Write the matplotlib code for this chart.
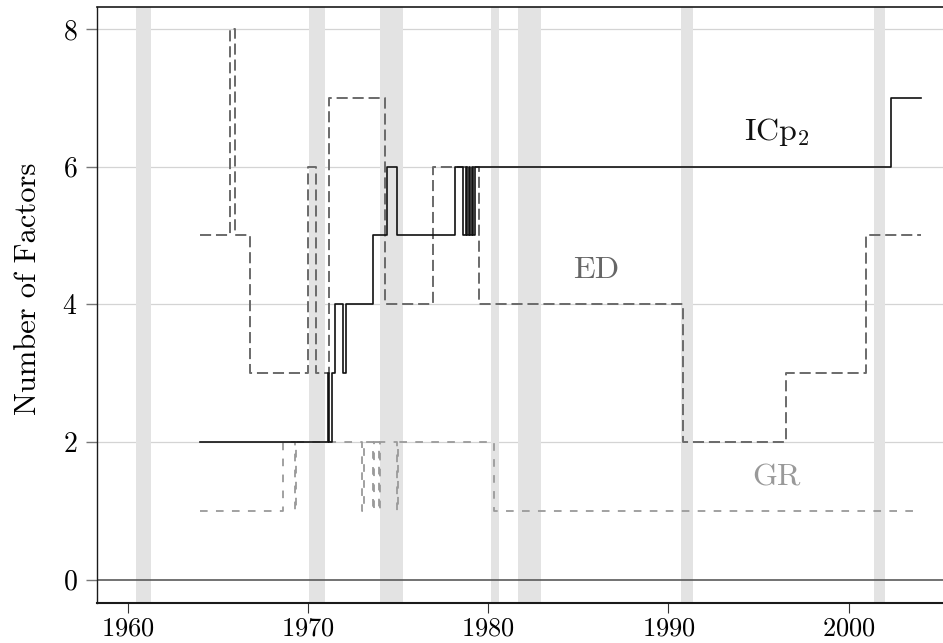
import numpy as np
import matplotlib.pyplot as plt

plt.rcParams['font.family'] = 'serif'
plt.rcParams['font.serif'] = ['cmr10']
plt.rcParams['mathtext.fontset'] = 'cm'
plt.rcParams['axes.formatter.use_mathtext'] = True
plt.rcParams['lines.scale_dashes'] = False

# recession periods (start, end), in years
recessoes = [(1960.42, 1961.25), (1970.05, 1970.94), (1974.0, 1975.27),
             (1980.16, 1980.62), (1981.66, 1982.95), (1990.68, 1991.35),
             (2001.41, 2002.01)]

# estimated number of factors, step series: date of change -> new value
icp2_t = [1964.0, 1971.083, 1971.167, 1971.333, 1971.5, 1971.958, 1972.125,
          1973.583, 1974.375, 1974.917, 1978.167, 1978.625, 1978.75, 1978.833,
          1978.917, 1979.0, 1979.083, 1979.167, 1979.25, 2002.375, 2004.0]
icp2_v = [2, 3, 2, 3, 4, 3, 4,
          5, 6, 5, 6, 5, 6, 5,
          6, 5, 6, 5, 6, 7, 7]

ed_t = [1964.0, 1965.667, 1965.958, 1966.75, 1970.0, 1970.417, 1971.167,
        1974.25, 1976.917, 1979.5, 1990.833, 1996.5, 2000.958, 2004.0]
ed_v = [5, 8, 5, 3, 6, 3, 7,
        4, 6, 4, 2, 3, 5, 5]

gr_t = [1964.0, 1968.625, 1969.25, 1969.333, 1973.0, 1973.083, 1973.583,
        1973.667, 1973.917, 1974.0, 1974.917, 1975.0, 1980.333, 2004.0]
gr_v = [1, 2, 1, 2, 1, 2, 1,
        2, 1, 2, 1, 2, 1, 1]

fig = plt.figure(figsize=(9.43, 6.43), dpi=100)
ax = fig.add_axes([97 / 943, 40 / 643, 1 - 97 / 943 + 0.003, 596 / 643])

for y in [2, 4, 6, 8]:
    ax.axhline(y, color='#d4d4d4', lw=0.9, zorder=0)
for a, b in recessoes:
    ax.axvspan(a, b, color='#e3e3e3', lw=0, zorder=1)
ax.axhline(0, color='#5a5a5a', lw=1.2, zorder=2)

ax.plot(gr_t, gr_v, drawstyle='steps-post', color='#9a9a9a', lw=1.3,
        dashes=(5.5, 6), zorder=3)
ax.plot(ed_t, ed_v, drawstyle='steps-post', color='#6a6a6a', lw=1.4,
        dashes=(8, 3.5), zorder=3)
ax.plot(icp2_t, icp2_v, drawstyle='steps-post', color='#111111', lw=1.2,
        zorder=4)

ax.text(1996.0, 6.5, r'ICp$_2$', ha='center', va='center', fontsize=23, color='#111111')
ax.text(1986.0, 4.5, 'ED', ha='center', va='center', fontsize=23, color='#666666')
ax.text(1996.0, 1.48, 'GR', ha='center', va='center', fontsize=23, color='#999999')

ax.set_xlim(1958.28, 2005.4)
ax.set_ylim(-0.34, 8.32)
ax.set_xticks([1960, 1970, 1980, 1990, 2000])
ax.set_yticks([0, 2, 4, 6, 8])
ax.tick_params(axis='y', length=8, width=1, color='#777777', pad=6, labelsize=20)
ax.tick_params(axis='x', length=7, width=0.8, color='#333333', pad=3, labelsize=19)

ax.spines['right'].set_visible(False)
for s in ['top', 'left', 'bottom']:
    ax.spines[s].set_color('#1a1a1a')
ax.spines['top'].set_linewidth(1.2)
ax.spines['left'].set_linewidth(1.0)
ax.spines['bottom'].set_linewidth(1.5)

ax.set_ylabel('Number of Factors', fontsize=22)
ax.yaxis.set_label_coords(-0.065, 0.527)

plt.savefig('out.png', dpi=100)
